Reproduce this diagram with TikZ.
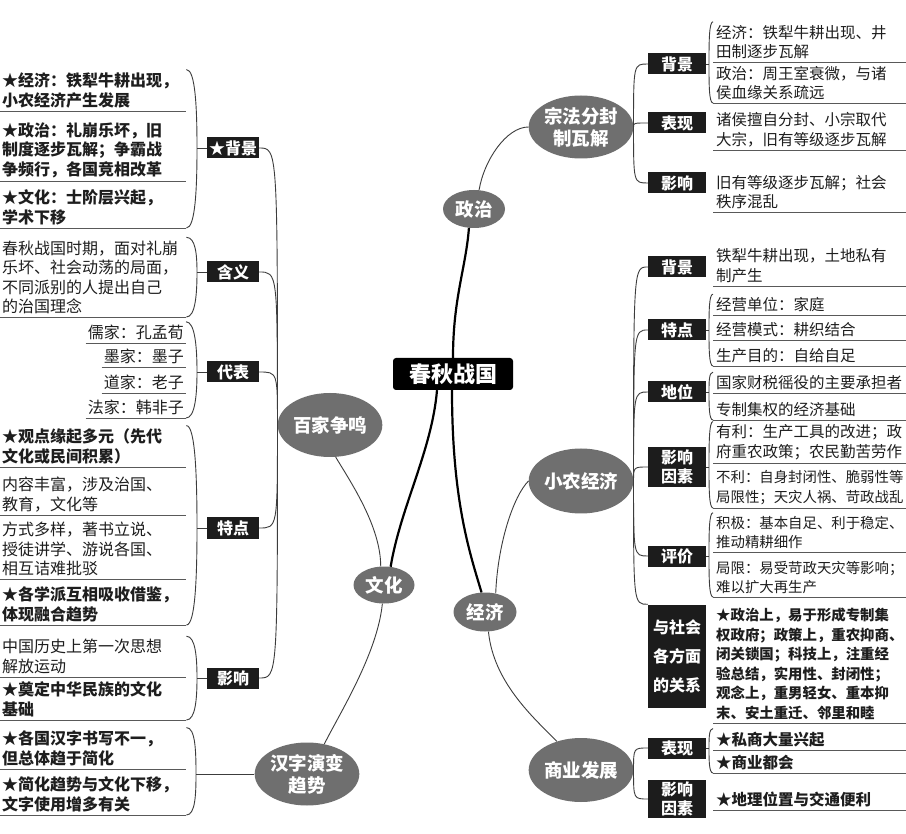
\documentclass[tikz,border=0pt]{standalone}
\usepackage{fontspec}
\setmainfont{Noto Sans CJK SC}
\usetikzlibrary{shapes.geometric}
\definecolor{topicgray}{HTML}{6F6F6F}
\definecolor{tagblack}{HTML}{1C1C1C}
\definecolor{inkdark}{HTML}{1E1E1E}
\definecolor{linegray}{HTML}{3C3C3C}
\newcommand{\leaffont}{\fontsize{16}{19.5}\selectfont}
\newcommand{\rightfont}{\fontsize{15.5}{19.5}\selectfont}
\newcommand{\narrowfont}{\fontsize{14.4}{19.5}\selectfont}
\tikzset{
  topic/.style={ellipse,fill=topicgray,text=white,inner sep=0pt,align=center,
    font=\fontsize{18.5}{22}\selectfont\bfseries},
  tag/.style={fill=tagblack,text=white,inner sep=0pt,align=center,minimum height=21pt,
    font=\fontsize{16}{19}\selectfont\bfseries},
  leafl/.style={anchor=south west,text width=182pt,inner xsep=2pt,inner ysep=3pt,
    align=left,text=inkdark,font=\leaffont},
  leafc/.style={anchor=south east,inner xsep=2pt,inner ysep=3pt,text=inkdark,font=\leaffont},
  leafr/.style={anchor=south west,text width=196pt,inner xsep=3pt,inner ysep=3pt,
    align=left,text=inkdark,font=\rightfont},
  starl/.style={font=\leaffont\bfseries},
  starr/.style={font=\rightfont\bfseries},
  twig/.style={draw=linegray,line width=0.9pt},
  rule/.style={draw=linegray!85,line width=0.8pt},
  stem/.style={draw=black,line width=2.2pt},
}
\begin{document}
\begin{tikzpicture}[x=1pt,y=-1pt]
\path[use as bounding box,fill=white] (0,0) rectangle (906,834);

\node[fill=black,rounded corners=3pt,text=white,font=\fontsize{22}{24}\selectfont\bfseries,
  minimum width=120pt,minimum height=32pt,inner sep=0pt] (root) at (453,374) {春秋战国};

\node[topic,minimum width=62pt,minimum height=38pt] (zz) at (474,209) {政治};
\node[topic,minimum width=103pt,minimum height=64pt] (bj) at (330,425) {百家争鸣};
\node[topic,minimum width=61pt,minimum height=37pt] (wh) at (384,585) {文化};
\node[topic,minimum width=63pt,minimum height=39pt] (jj) at (485,612) {经济};
\node[topic,minimum width=102pt,minimum height=63pt] (hz) at (307,774) {汉字演变\\趋势};
\node[topic,minimum width=103pt,minimum height=64pt] (sf) at (581,770) {商业发展};
\node[topic,minimum width=102pt,minimum height=63pt] (zf) at (581,127) {宗法分封\\制瓦解};
\node[topic,minimum width=103pt,minimum height=65pt] (xn) at (581,481) {小农经济};

\node[tag,minimum width=52pt] (bg) at (233,148) {★背景};
\node[tag,minimum width=52pt] (hy) at (233,272) {含义};
\node[tag,minimum width=52pt] (db) at (233,372) {代表};
\node[tag,minimum width=52pt] (td) at (233,528) {特点};
\node[tag,minimum width=52pt] (yx) at (233,678) {影响};

\node[tag,minimum width=58pt] (zb) at (677,64) {背景};
\node[tag,minimum width=58pt] (zx) at (677,123) {表现};
\node[tag,minimum width=58pt] (zy) at (677,183) {影响};
\node[tag,minimum width=58pt] (xb) at (677,267) {背景};
\node[tag,minimum width=58pt] (xt) at (677,330) {特点};
\node[tag,minimum width=58pt] (xd) at (677,392) {地位};
\node[tag,minimum width=58pt,minimum height=40pt] (xy) at (677,467) {影响\\因素};
\node[tag,minimum width=58pt] (xp) at (677,556) {评价};
\node[tag,minimum width=58pt,minimum height=103pt,font=\fontsize{16}{29}\selectfont\bfseries] (xg) at (677,656) {与社会\\各方面\\的关系};
\node[tag,minimum width=58pt] (sx) at (677,748) {表现};
\node[tag,minimum width=58pt,minimum height=38pt] (sy) at (677,799) {影响\\因素};

\node[leafl,starl] (a1) at (0,111) {★经济：铁犁牛耕出现，\\小农经济产生发展};
\node[leafl,starl] (a2) at (0,181) {★政治：礼崩乐坏，旧\\制度逐步瓦解；争霸战\\争频行，各国竞相改革};
\node[leafl,starl] (a3) at (0,228) {★文化：士阶层兴起，\\学术下移};
\node[leafl] (b1) at (0,317) {春秋战国时期，面对礼崩\\乐坏、社会动荡的局面，\\不同派别的人提出自己\\的治国理念};
\node[leafc] (c1) at (186,343) {儒家：孔孟荀};
\node[leafc] (c2) at (186,367) {墨家：墨子};
\node[leafc] (c3) at (186,393) {道家：老子};
\node[leafc] (c4) at (186,418) {法家：韩非子};
\node[leafl,starl] (g1) at (0,467) {★观点缘起多元（先代\\文化或民间积累）};
\node[leafl] (g2) at (0,515) {内容丰富，涉及治国、\\教育，文化等};
\node[leafl] (g3) at (0,579) {方式多样，著书立说、\\授徒讲学、游说各国、\\相互诘难批驳};
\node[leafl,starl] (g4) at (0,625) {★各学派互相吸收借鉴，\\体现融合趋势};
\node[leafl] (h1) at (0,677) {中国历史上第一次思想\\解放运动};
\node[leafl,starl] (h2) at (0,720) {★奠定中华民族的文化\\基础};
\node[leafl,starl] (i1) at (0,769) {★各国汉字书写不一，\\但总体趋于简化};
\node[leafl,starl] (i2) at (0,815) {★简化趋势与文化下移，\\文字使用增多有关};

\node[leafr] (d1) at (713,62) {经济：铁犁牛耕出现、井\\田制逐步瓦解};
\node[leafr] (d2) at (713,103) {政治：周王室衰微，与诸\\侯血缘关系疏远};
\node[leafr] (d3) at (713,150) {诸侯擅自分封、小宗取代\\大宗，旧有等级逐步瓦解};
\node[leafr] (d4) at (713,212) {旧有等级逐步瓦解；社会\\秩序混乱};
\node[leafr] (e1) at (713,286) {铁犁牛耕出现，土地私有\\制产生};
\node[leafr] (e2) at (713,315) {经营单位：家庭};
\node[leafr] (e3) at (713,340) {经营模式：耕织结合};
\node[leafr] (e4) at (713,366) {生产目的：自给自足};
\node[leafr] (e5) at (713,393) {国家财税徭役的主要承担者};
\node[leafr] (e6) at (713,420) {专制集权的经济基础};
\node[leafr] (e7) at (713,463) {有利：生产工具的改进；政\\府重农政策；农民勤苦劳作};
\node[leafr,font=\narrowfont] (e8) at (713,508) {不利：自身封闭性、脆弱性等\\局限性；天灾人祸、苛政战乱};
\node[leafr,font=\narrowfont] (e9) at (713,552) {积极：基本自足、利于稳定、\\推动精耕细作};
\node[leafr,font=\narrowfont] (e10) at (713,597) {局限：易受苛政天灾等影响；\\难以扩大再生产};
\node[leafr,font=\narrowfont\bfseries] (e11) at (713,723) {★政治上，易于形成专制集\\权政府；政策上，重农抑商、\\闭关锁国；科技上，注重经\\验总结，实用性、封闭性；\\观念上，重男轻女、重本抑\\末、安土重迁、邻里和睦};
\node[leafr,starr] (f1) at (713,750) {★私商大量兴起};
\node[leafr,starr] (f2) at (713,773) {★商业都会};
\node[leafr,starr] (f3) at (713,810) {★地理位置与交通便利};

\draw[stem] (root.north) .. controls +(0,-60) and +(-3,40) .. (zz.255);
\draw[stem] ([xshift=-16pt]root.south) .. controls +(-5,60) and +(10,-60) .. (wh.70);
\draw[stem] ([xshift=-1pt]root.south) .. controls +(0,110) and +(-12,-40) .. (jj.100);

\draw[twig] (zz.75) .. controls +(5,-30) and +(-22,0) .. (zf.west);
\draw[twig] (jj.60) .. controls +(2,-50) and +(-15,15) .. (xn.west);
\draw[twig] (jj.-80) .. controls +(5,50) and +(-25,-25) .. (sf.130);
\draw[twig] (wh.100) .. controls +(0,-40) and +(15,25) .. (bj.-80);
\draw[twig] (wh.-95) .. controls +(-5,50) and +(15,-30) .. (hz.60);

\foreach \t in {bg,hy,db,td,yx}
  \draw[twig] (bj.west) .. controls (\t.east -| bj.west) .. (\t.east);
\foreach \t in {zb,zx,zy}
  \draw[twig] (zf.east) .. controls (\t.west -| zf.east) .. (\t.west);
\foreach \t in {xb,xt,xd,xy,xp}
  \draw[twig] (xn.east) .. controls (\t.west -| xn.east) .. (\t.west);
\draw[twig] (xn.east) .. controls (xg.north west -| xn.east) .. (xg.north west);
\foreach \t in {sx,sy}
  \draw[twig] (sf.east) .. controls (\t.west -| sf.east) .. (\t.west);

\coordinate (bgk) at (197,148);
\coordinate (hyk) at (197,272);
\coordinate (dbk) at (197,372);
\coordinate (tdk) at (197,528);
\coordinate (yxk) at (197,678);
\coordinate (hzk) at (196,774);
\draw[twig] (bg.west) -- (bgk);
\draw[twig] (hy.west) -- (hyk);
\draw[twig] (db.west) -- (dbk);
\draw[twig] (td.west) -- (tdk);
\draw[twig] (yx.west) -- (yxk);
\draw[twig] (hz.west) -- (hzk);
\draw[twig] (a1.north east) .. controls +(9,0) and +(0,-40) .. (bgk) .. controls +(0,40) and +(9,0) .. (a3.south east);
\draw[twig] (b1.north east) .. controls +(9,0) and +(0,-18) .. (hyk) .. controls +(0,22) and +(9,0) .. (b1.south east);
\draw[twig] (c1.north east) .. controls +(9,0) and +(0,-25) .. (dbk) .. controls +(0,23) and +(9,0) .. (c4.south east);
\draw[twig] (g1.north east) .. controls +(9,0) and +(0,-50) .. (tdk) .. controls +(0,48) and +(9,0) .. (g4.south east);
\draw[twig] (h1.north east) .. controls +(9,0) and +(0,-21) .. (yxk) .. controls +(0,21) and +(9,0) .. (h2.south east);
\draw[twig] (i1.north east) .. controls +(9,0) and +(0,-23) .. (hzk) .. controls +(0,20) and +(9,0) .. (i2.south east);

\coordinate (zbk) at (709,64);
\coordinate (xtk) at (709,330);
\coordinate (xdk) at (709,392);
\coordinate (xyk) at (709,467);
\coordinate (xpk) at (709,556);
\coordinate (sxk) at (709,748);
\draw[twig] (zb.east) -- (zbk);
\draw[twig] (xt.east) -- (xtk);
\draw[twig] (xd.east) -- (xdk);
\draw[twig] (xy.east) -- (xyk);
\draw[twig] (xp.east) -- (xpk);
\draw[twig] (sx.east) -- (sxk);
\draw[twig] (d1.north west) .. controls +(-4,0) and +(0,-21) .. (zbk) .. controls +(0,20) and +(-4,0) .. (d2.south west);
\draw[twig] (e2.north west) .. controls +(-4,0) and +(0,-18) .. (xtk) .. controls +(0,18) and +(-4,0) .. (e4.south west);
\draw[twig] (e5.north west) .. controls +(-4,0) and +(0,-10) .. (xdk) .. controls +(0,14) and +(-4,0) .. (e6.south west);
\draw[twig] (e7.north west) .. controls +(-4,0) and +(0,-22) .. (xyk) .. controls +(0,20) and +(-4,0) .. (e8.south west);
\draw[twig] (e9.north west) .. controls +(-4,0) and +(0,-22) .. (xpk) .. controls +(0,20) and +(-4,0) .. (e10.south west);
\draw[twig] (f1.north west) .. controls +(-4,0) and +(0,-10) .. (sxk) .. controls +(0,12) and +(-4,0) .. (f2.south west);

\foreach \n in {a1,a2,a3,b1,c1,c2,c3,c4,g1,g2,g3,g4,h1,h2,i1,i2,
  d1,d2,d3,d4,e1,e2,e3,e4,e5,e6,e7,e8,e9,e10,e11,f1,f2,f3}
  \draw[rule] (\n.south west) -- (\n.south east);
\end{tikzpicture}
\end{document}
